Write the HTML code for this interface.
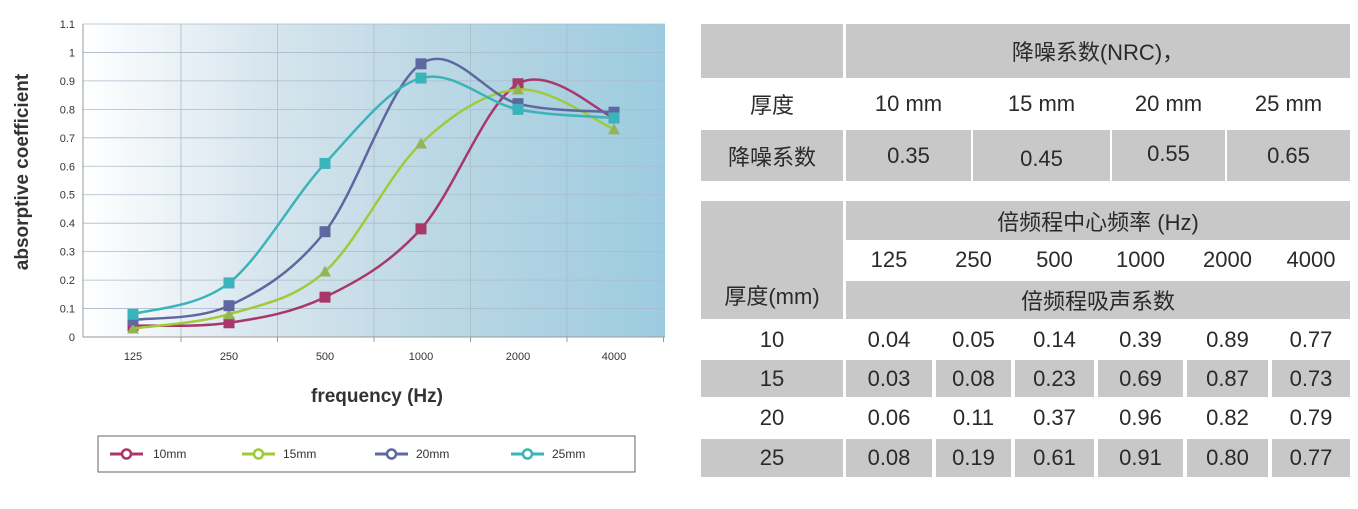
<!DOCTYPE html>
<html><head><meta charset="utf-8"><style>
body{margin:0;width:1358px;height:509px;background:#fff;overflow:hidden;position:relative;font-family:"Liberation Sans","Noto Sans CJK SC",sans-serif}
.c{position:absolute;background:#c8c8c8;color:#2a2a2a;font-size:22px;display:flex;align-items:center;justify-content:center;box-sizing:border-box}
.w{background:#fff}
</style></head><body>
<svg width="680" height="509" style="position:absolute;left:0;top:0" font-family="Liberation Sans, sans-serif">
<defs><linearGradient id="g" x1="0" x2="1" y1="0" y2="0">
<stop offset="0" stop-color="#ffffff"/><stop offset="0.3" stop-color="#d8e6ee"/><stop offset="0.6" stop-color="#bcd8e4"/><stop offset="1" stop-color="#9ccbe0"/></linearGradient></defs>
<rect x="83" y="24" width="582" height="313" fill="url(#g)"/>
<g id="grid" stroke="#aabbcc" stroke-width="0.8"></g>
<line x1="83" y1="24" x2="83" y2="337" stroke="#999"/>
<line x1="83" y1="337" x2="665" y2="337" stroke="#999"/>
<g id="lbl" font-size="11" fill="#333"></g>
<g id="ser"></g>
<text x="377" y="402" font-size="19" font-weight="bold" text-anchor="middle" fill="#333">frequency (Hz)</text>
<text transform="translate(28,172) rotate(-90)" font-size="19" font-weight="bold" text-anchor="middle" fill="#333">absorptive coefficient</text>
<rect x="98" y="436" width="537" height="36" fill="#fff" stroke="#666"/>
<g id="leg" font-size="12" fill="#333"></g>
</svg>

<div class="c" style="left:701px;top:24px;width:142px;height:54px"></div>
<div class="c" style="left:846px;top:24px;width:504px;height:54px">降噪系数(NRC)，</div>
<div class="c w" style="left:701px;top:80px;width:142px;height:48px">厚度</div>
<div class="c w" style="left:846px;top:80px;width:125px;height:48px">10 mm</div>
<div class="c w" style="left:973px;top:80px;width:137px;height:48px">15 mm</div>
<div class="c w" style="left:1112px;top:80px;width:113px;height:48px">20 mm</div>
<div class="c w" style="left:1227px;top:80px;width:123px;height:48px">25 mm</div>
<div class="c" style="left:701px;top:130px;width:142px;height:51px">降噪系数</div>
<div class="c" style="left:846px;top:130px;width:125px;height:51px">0.35</div>
<div class="c" style="left:973px;top:130px;width:137px;height:51px;padding-top:6px">0.45</div>
<div class="c" style="left:1112px;top:130px;width:113px;height:51px;padding-bottom:4px">0.55</div>
<div class="c" style="left:1227px;top:130px;width:123px;height:51px">0.65</div>

<div class="c" style="left:701px;top:201px;width:142px;height:118px;align-items:flex-end;padding-bottom:8px">厚度(mm)</div>
<div class="c" style="left:846px;top:201px;width:504px;height:39px">倍频程中心频率 (Hz)</div>
<div class="c" style="left:846px;top:281px;width:504px;height:38px">倍频程吸声系数</div>
<div id="t2"></div>
<script>
var NS="http://www.w3.org/2000/svg";
function el(p,t,a,txt){var e=document.createElementNS(NS,t);for(var k in a)e.setAttribute(k,a[k]);if(txt)e.textContent=txt;p.appendChild(e);return e;}
var g=document.getElementById('grid'),l=document.getElementById('lbl'),s=document.getElementById('ser'),lg=document.getElementById('leg');
function Y(v){return 337-v/1.1*313;}
for(var i=0;i<=11;i++){var y=Y(i/10);if(i>0)el(g,'line',{x1:83,x2:665,y1:y,y2:y});el(l,'text',{x:75,y:y+4,'text-anchor':'end'},i==0?'0':i==10?'1':(i/10).toFixed(1));}
var xs=[133,229,325,421,518,614];
for(var i=0;i<6;i++){var gx=181+i*96.5;if(i<5)el(g,'line',{x1:gx,x2:gx,y1:24,y2:337});el(l,'line',{x1:gx,x2:gx,y1:337,y2:342,stroke:'#999'});
el(l,'text',{x:xs[i],y:360,'text-anchor':'middle'},[125,250,500,1000,2000,4000][i]);}
var D=[["10mm","#a8386a",[.04,.05,.14,.38,.89,.77],0],["15mm","#9fcb3a",[.03,.08,.23,.68,.87,.73],1],["20mm","#5f67a0",[.06,.11,.37,.96,.82,.79],0],["25mm","#3bb3b8",[.08,.19,.61,.91,.80,.77],0]];
D.forEach(function(d,j){var p=xs.map(function(x,i){return [x,Y(d[2][i])];});var t=1/6;
var path="M"+p[0];for(var i=0;i<5;i++){var p0=p[i-1]||p[i],p1=p[i],p2=p[i+1],p3=p[i+2]||p2;
path+=" C"+(p1[0]+(p2[0]-p0[0])*t)+","+(p1[1]+(p2[1]-p0[1])*t)+" "+(p2[0]-(p3[0]-p1[0])*t)+","+(p2[1]-(p3[1]-p1[1])*t)+" "+p2;}
el(s,'path',{d:path,fill:'none',stroke:d[1],'stroke-width':2.5});
p.forEach(function(q){if(d[3])el(s,'polygon',{points:(q[0])+","+(q[1]-6)+" "+(q[0]-6)+","+(q[1]+5)+" "+(q[0]+6)+","+(q[1]+5),fill:'#94b45a'});
else el(s,'rect',{x:q[0]-5.5,y:q[1]-5.5,width:11,height:11,fill:d[1]});});
var lx=[110,242,375,511][j],tx=[153,283,416,552][j];
el(lg,'line',{x1:lx,x2:lx+33,y1:454,y2:454,stroke:d[1],'stroke-width':3});
el(lg,'circle',{cx:lx+16.5,cy:454,r:4.5,fill:'#fff',stroke:d[1],'stroke-width':2.5});
el(lg,'text',{x:tx,y:458},d[0]);});
var cols=[[846,86],[936,75],[1015,79],[1098,85],[1187,81],[1272,78]];
var rows=[[240,39,1,["125","250","500","1000","2000","4000"],""],[321,37,1,["0.04","0.05","0.14","0.39","0.89","0.77"],"10"],[360,37,0,["0.03","0.08","0.23","0.69","0.87","0.73"],"15"],[399,37,1,["0.06","0.11","0.37","0.96","0.82","0.79"],"20"],[439,38,0,["0.08","0.19","0.61","0.91","0.80","0.77"],"25"]];
var h="";rows.forEach(function(r){var cl=r[2]?"c w":"c";
if(r[4])h+='<div class="'+cl+'" style="left:701px;top:'+r[0]+'px;width:142px;height:'+r[1]+'px">'+r[4]+'</div>';
cols.forEach(function(c,i){h+='<div class="'+cl+'" style="left:'+c[0]+'px;top:'+r[0]+'px;width:'+c[1]+'px;height:'+r[1]+'px">'+r[3][i]+'</div>';});});
document.getElementById('t2').innerHTML=h;
</script>
</body></html>
